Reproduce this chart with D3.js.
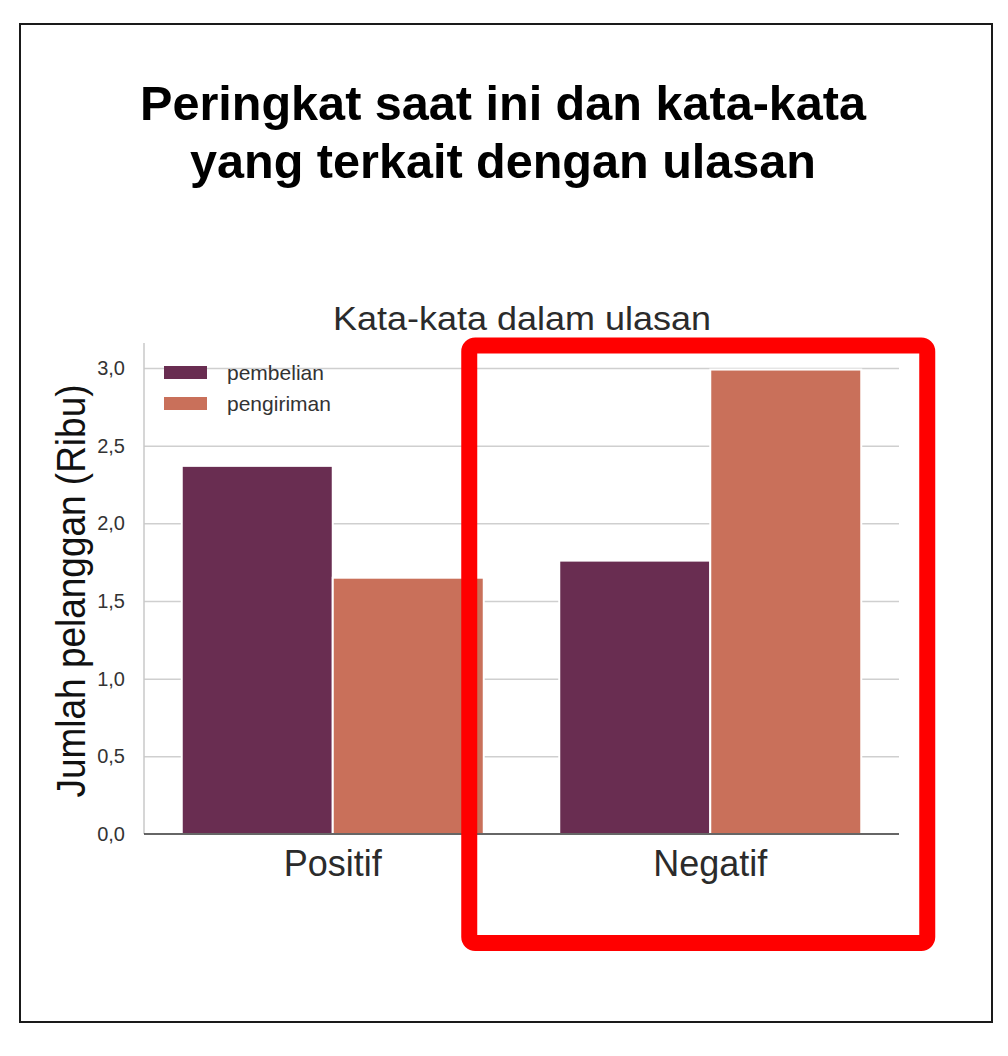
<!DOCTYPE html>
<html>
<head>
<meta charset="utf-8">
<script src="https://cdn.jsdelivr.net/npm/d3@7"></script>
<style>
  html, body { margin: 0; padding: 0; background: #fff; }
  svg { display: block; font-family: "Liberation Sans", Arial, sans-serif; }
</style>
</head>
<body>
<svg id="chart" width="1008" height="1056"></svg>
<script>
// ---- data ----
const titleLines = ["Peringkat saat ini dan kata-kata", "yang terkait dengan ulasan"];
const subtitle = "Kata-kata dalam ulasan";
const yLabel = "Jumlah pelanggan (Ribu)";
const categories = ["Positif", "Negatif"];
const seriesNames = ["pembelian", "pengiriman"];
const pembelian = [2.37, 1.76];
const pengiriman = [1.65, 2.99];
const yTicks = [0, 0.5, 1.0, 1.5, 2.0, 2.5, 3.0];
const colors = ["#692d51", "#c9705a"];
const highlightCategory = "Negatif";

const seriesValues = [pembelian, pengiriman];
const table = categories.map((c, i) => ({
  category: c,
  values: seriesNames.map((s, j) => ({ series: s, value: seriesValues[j][i], color: colors[j] }))
}));

const svg = d3.select("#chart");

// outer frame
svg.append("rect").attr("x", 20).attr("y", 24).attr("width", 972).attr("height", 998)
  .attr("fill", "#fff").attr("stroke", "#1a1a1a").attr("stroke-width", 2);

// title
svg.append("g").selectAll("text").data(titleLines).join("text")
  .attr("x", 503).attr("y", (d, i) => 120 + i * 58)
  .attr("text-anchor", "middle").attr("font-weight", "bold")
  .attr("font-size", 48).attr("fill", "#000")
  .attr("textLength", (d, i) => i === 0 ? 726 : 626).attr("lengthAdjust", "spacingAndGlyphs")
  .text(d => d);

// scales
const x0 = 144, x1 = 899, yBase = 834, yTop = 368;
const x = d3.scaleBand().domain(categories).range([x0, x1]).paddingInner(0.2).paddingOuter(0.1);
const xs = d3.scaleBand().domain(seriesNames).range([0, x.bandwidth()]);
const y = d3.scaleLinear().domain([0, 3.0]).range([yBase, yTop]);

// subtitle
svg.append("text").attr("x", 522).attr("y", 330).attr("text-anchor", "middle")
  .attr("font-size", 33).attr("fill", "#2b2b2b")
  .attr("textLength", 378).attr("lengthAdjust", "spacingAndGlyphs")
  .text(subtitle);

// gridlines
const grid = svg.append("g").attr("transform", `translate(${x0},0)`)
  .call(d3.axisLeft(y).tickValues(yTicks.slice(1)).tickSize(-(x1 - x0)).tickFormat(""));
grid.select(".domain").remove();
grid.selectAll(".tick line").attr("stroke", "#cfcfcf").attr("stroke-width", 1.5);

// left spine
svg.append("line").attr("x1", x0).attr("x2", x0).attr("y1", 343).attr("y2", yBase)
  .attr("stroke", "#c8c8c8").attr("stroke-width", 1.5);

// y tick labels
const yAxis = svg.append("g").attr("transform", `translate(${x0},0)`)
  .call(d3.axisLeft(y).tickValues(yTicks).tickSize(0).tickPadding(19)
    .tickFormat(d => d3.format(".1f")(d).replace(".", ",")));
yAxis.select(".domain").remove();
yAxis.selectAll("text").attr("font-size", 20).attr("fill", "#333")
  .attr("font-family", "Liberation Sans, Arial, sans-serif");

// bars
const groups = svg.append("g").selectAll("g").data(table).join("g")
  .attr("transform", d => `translate(${x(d.category)},0)`);
groups.selectAll("rect").data(d => d.values).join("rect")
  .attr("x", d => xs(d.series))
  .attr("y", d => y(d.value))
  .attr("width", xs.bandwidth())
  .attr("height", d => y(0) - y(d.value))
  .attr("fill", d => d.color)
  .attr("stroke", "#fff").attr("stroke-width", 2);

// baseline
svg.append("line").attr("x1", x0).attr("x2", x1).attr("y1", yBase).attr("y2", yBase)
  .attr("stroke", "#333").attr("stroke-width", 1.5);

// x labels
const xAxis = svg.append("g").attr("transform", `translate(0,${yBase})`)
  .call(d3.axisBottom(x).tickSize(0).tickPadding(16));
xAxis.select(".domain").remove();
xAxis.selectAll("text").attr("font-size", 36).attr("fill", "#2b2b2b")
  .attr("font-family", "Liberation Sans, Arial, sans-serif");

// y label
svg.append("text").attr("transform", "translate(85,591) rotate(-90)")
  .attr("text-anchor", "middle").attr("font-size", 41).attr("fill", "#111")
  .attr("textLength", 413).attr("lengthAdjust", "spacingAndGlyphs")
  .text(yLabel);

// legend
const legend = svg.append("g").selectAll("g").data(seriesNames).join("g")
  .attr("transform", (d, i) => `translate(164,${366 + i * 31})`);
legend.append("rect").attr("width", 43).attr("height", 13).attr("fill", (d, i) => colors[i]);
legend.append("text").attr("x", 63).attr("y", 14).attr("font-size", 21).attr("fill", "#333").text(d => d);

// highlight box around the highlighted category
const bx = x(highlightCategory);
svg.append("rect")
  .attr("x", bx - 90).attr("y", 345.5)
  .attr("width", x.bandwidth() + 156).attr("height", 597.5)
  .attr("rx", 6)
  .attr("fill", "none").attr("stroke", "#ff0000").attr("stroke-width", 16);
</script>
</body>
</html>
